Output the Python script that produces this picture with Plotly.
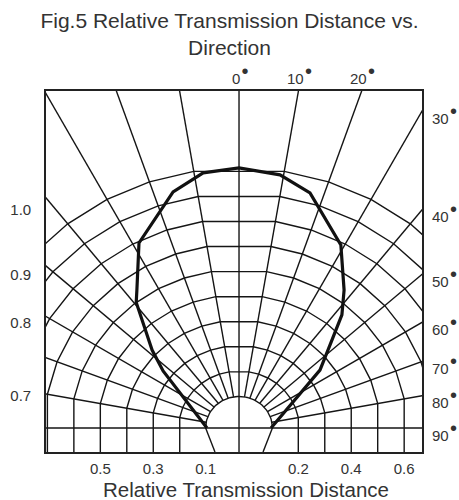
import numpy as np
import plotly.graph_objects as go

# ---------------- data ----------------
TITLE = "Fig.5 Relative Transmission Distance vs.<br>Direction"
X_TITLE = "Relative Transmission Distance"

# measured vertices of the thick curve: direction (deg) and relative distance
CURVE_ANGLES = [-90, -53.1, -48.1, -39.3, -36.5, -28.4, -15.6, -8.0, 0,
                9.2, 16.8, 29.1, 37.3, 42.3, 47.6, 54.4, 90]
CURVE_DIST = [0.095, 0.336, 0.421, 0.600, 0.638, 0.793, 0.937, 0.989, 1.000,
              0.984, 0.938, 0.789, 0.644, 0.562, 0.446, 0.353, 0.095]

RING_VALUES = [0.1, 0.2, 0.3, 0.4, 0.5, 0.6, 0.7, 0.8, 0.9, 1.0]
SPOKE_ANGLES = [-80, -70, -60, -50, -40, -30, -20, -10, 0, 10, 20, 30, 40, 50, 60, 70, 80]

BOTTOM_TICK_RINGS = [-0.5, -0.3, -0.1, 0.2, 0.4, 0.6]
BOTTOM_TICK_TEXT = ["0.5", "0.3", "0.1", "0.2", "0.4", "0.6"]
LEFT_TICK_ANGLES = [40, 50, 60, 80]
LEFT_TICK_TEXT = ["1.0", "0.9", "0.8", "0.7"]
RIGHT_TICK_ANGLES = [30, 40, 50, 60, 70, 80, 90]
TOP_TICK_ANGLES = [0, 10, 20]

# ---------------- chart geometry ----------------
R_OFF = 0.024     # ring radius offset
WIDEN = 0.06      # rings are slightly wider towards the sides
X_MIN, X_MAX = -0.76, 0.7205
Y_MIN, Y_MAX = -0.0945, 1.3268
FONT = "Liberation Sans, Arial, sans-serif"
TXT = "#333333"
DEG = "\u200a<sup><span style='font-size:20px'>•</span></sup>"


def rho(d, th):
    th = np.radians(np.asarray(th, dtype=float))
    return (np.asarray(d, dtype=float) + R_OFF) * (1 + WIDEN * np.sin(th) ** 2)


def polar_xy(d, th):
    r = rho(d, th)
    t = np.radians(np.asarray(th, dtype=float))
    return r * np.sin(t), r * np.cos(t)


gx, gy = [], []


def add_seg(xs, ys):
    gx.extend(list(xs) + [None])
    gy.extend(list(ys) + [None])


LOW = Y_MIN - 0.2
# spokes
for th in SPOKE_ANGLES:
    if th == 0:
        add_seg([0, 0], [LOW, Y_MAX + 0.2])
    else:
        x0, y0 = polar_xy(RING_VALUES[0], th)
        x1, y1 = polar_xy(3.0, th)
        add_seg([x0, x1], [y0, y1])
# 90 deg line
add_seg([X_MIN - 0.2, X_MAX + 0.2], [0, 0])

# rings
for d in RING_VALUES:
    if d == RING_VALUES[0]:
        ths = np.arange(-90, 91, 3)
        xs, ys = polar_xy(d, ths)
        add_seg(xs, ys)
        for s in (-1, 1):
            xe = s * float(rho(d, 90))
            add_seg([xe, xe * 0.72], [0, Y_MIN])
    else:
        ths = [t for t in SPOKE_ANGLES if t != 0]
        xs, ys = polar_xy(d, ths)
        xs = [xs[0]] + list(xs) + [xs[-1]]
        ys = [LOW] + list(ys) + [LOW]
        add_seg(xs, ys)

fig = go.Figure()
fig.add_trace(go.Scatter(x=gx, y=gy, mode="lines",
                         line=dict(color="#151515", width=1.4),
                         hoverinfo="skip", showlegend=False))

cx, cy = polar_xy(CURVE_DIST, CURVE_ANGLES)
fig.add_trace(go.Scatter(x=cx, y=cy, mode="lines",
                         line=dict(color="#111111", width=3.2),
                         hoverinfo="skip", showlegend=False))

# tick positions
bottom_vals = []
for v in BOTTOM_TICK_RINGS:
    a = abs(v)
    s = np.sign(v)
    if a == RING_VALUES[0]:
        bottom_vals.append(float(s * rho(a, 90)))
    else:
        bottom_vals.append(float(s * rho(a, 80) * np.sin(np.radians(80))))


def edge_y(th):
    return 0.0 if th >= 90 else X_MAX / np.tan(np.radians(th))


left_vals = [edge_y(t) for t in LEFT_TICK_ANGLES]

annotations = []
for t in RIGHT_TICK_ANGLES:
    annotations.append(dict(x=1, xref="paper", y=edge_y(t), yref="y",
                            text=f"{t}{DEG}", showarrow=False,
                            xanchor="left", yanchor="middle", xshift=8, yshift=-2,
                            font=dict(family=FONT, size=15, color=TXT)))
for t in TOP_TICK_ANGLES:
    annotations.append(dict(x=Y_MAX * np.tan(np.radians(t)), xref="x", y=1, yref="paper",
                            text=f"{t}{DEG}", showarrow=False,
                            xanchor="center", yanchor="bottom", yshift=2, xshift=1,
                            font=dict(family=FONT, size=15, color=TXT)))
annotations.append(dict(x=0.533, xref="paper", y=-0.104, yref="paper",
                        text=X_TITLE, showarrow=False, xanchor="center", yanchor="middle",
                        font=dict(family=FONT, size=20.5, color=TXT)))

axis_common = dict(showgrid=False, zeroline=False, showline=True, mirror=True,
                   linecolor="#222222", linewidth=1.6, ticks="", automargin=False,
                   tickfont=dict(family=FONT, size=15, color=TXT), fixedrange=True)

fig.update_layout(
    width=459, height=500,
    margin=dict(l=46, r=37, t=91, b=48, autoexpand=False),
    paper_bgcolor="white", plot_bgcolor="white",
    title=dict(text=TITLE, x=0.5, xanchor="center", y=0.944, yanchor="top",
               font=dict(family=FONT, size=21, color=TXT)),
    xaxis=dict(range=[X_MIN, X_MAX], tickvals=bottom_vals, ticktext=BOTTOM_TICK_TEXT,
               ticklabelstandoff=2, **axis_common),
    yaxis=dict(range=[Y_MIN, Y_MAX], tickvals=left_vals, ticktext=LEFT_TICK_TEXT,
               ticklabelstandoff=10, **axis_common),
    annotations=annotations,
    showlegend=False,
    hovermode=False,
)

fig.write_html("out.html", config=dict(displayModeBar=False),
               post_script="document.body.style.margin='0px';document.body.style.overflow='hidden';")
